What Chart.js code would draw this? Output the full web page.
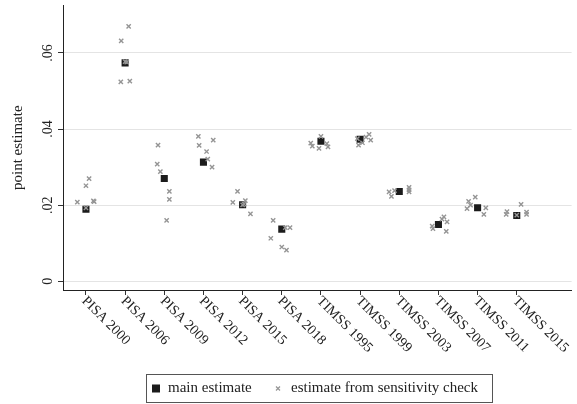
<!DOCTYPE html>
<html lang="en">
<head>
    <meta charset="UTF-8">
    <title>Point estimates by study</title>
    <script src="https://cdn.jsdelivr.net/npm/chart.js"></script>
    <style>
        body {
            margin: 0;
            background-color: #fff;
        }
        .chart-container {
            width: 577px;
            height: 404px;
        }
    </style>
</head>
<body>
    <div class="chart-container">
        <canvas id="estimate-chart"></canvas>
    </div>

    <script>
        // Survey waves on the x axis
        const categories = ["PISA 2000", "PISA 2006", "PISA 2009", "PISA 2012", "PISA 2015", "PISA 2018",
                            "TIMSS 1995", "TIMSS 1999", "TIMSS 2003", "TIMSS 2007", "TIMSS 2011", "TIMSS 2015"];

        // Main estimate per wave
        const mainEstimates = [0.0189, 0.0574, 0.0270, 0.0313, 0.0201, 0.0137,
                               0.0368, 0.0373, 0.0236, 0.0149, 0.0193, 0.0173];

        // Estimates from the sensitivity checks, one row per wave
        const sensitivityEstimates = [
            [0.0208, 0.0251, 0.0270, 0.0211, 0.0209, 0.0193],
            [0.0670, 0.0632, 0.0524, 0.0526, 0.0577, 0.0576],
            [0.0358, 0.0308, 0.0288, 0.0236, 0.0215, 0.0160],
            [0.0381, 0.0357, 0.0371, 0.0341, 0.0321, 0.0300],
            [0.0236, 0.0207, 0.0212, 0.0203, 0.0177, 0.0201],
            [0.0160, 0.0141, 0.0141, 0.0113, 0.0090, 0.0082],
            [0.0381, 0.0363, 0.0355, 0.0349, 0.0362, 0.0353],
            [0.0386, 0.0371, 0.0375, 0.0358, 0.0364, 0.0379],
            [0.0235, 0.0223, 0.0247, 0.0235, 0.0238, 0.0240],
            [0.0169, 0.0163, 0.0156, 0.0145, 0.0138, 0.0131],
            [0.0221, 0.0210, 0.0193, 0.0176, 0.0191, 0.0200],
            [0.0202, 0.0183, 0.0176, 0.0182, 0.0176, 0.0174]
        ];

        // Horizontal jitter of each sensitivity estimate (in category units)
        const sensitivityJitter = [
            [-0.22, 0.00, 0.08, 0.19, 0.21, 0.00],
            [0.09, -0.10, -0.11, 0.12, 0.00, 0.04],
            [-0.16, -0.18, -0.10, 0.13, 0.13, 0.06],
            [-0.13, -0.11, 0.25, 0.08, 0.11, 0.22],
            [-0.13, -0.25, 0.07, 0.04, 0.20, 0.00],
            [-0.22, 0.21, 0.09, -0.28, 0.00, 0.12],
            [0.00, -0.26, -0.22, -0.05, 0.15, 0.18],
            [0.23, 0.27, -0.07, -0.04, 0.06, 0.15],
            [-0.26, -0.20, 0.25, 0.25, -0.12, 0.25],
            [0.14, 0.09, 0.22, -0.16, -0.14, 0.20],
            [-0.06, -0.23, 0.21, 0.16, -0.27, -0.18],
            [0.11, -0.25, -0.27, 0.25, 0.25, 0.00]
        ];

        // Y axis ticks and labels
        const yTicks = [0, 0.02, 0.04, 0.06];
        const yTickLabels = ["0", ".02", ".04", ".06"];

        const legendLabels = ["main estimate", "estimate from sensitivity check"];

        const FONT = '"Liberation Serif", "Times New Roman", serif';
        const MAIN_COLOR = "#1b1b1b";
        const CROSS_COLOR = "#959595";

        const mainPoints = mainEstimates.map((v, i) => ({ x: i, y: v }));
        const crossPoints = [];
        sensitivityEstimates.forEach((row, i) => {
            row.forEach((v, j) => crossPoints.push({ x: i + sensitivityJitter[i][j], y: v }));
        });

        // Rotated tick labels and the boxed legend, drawn after the chart
        const labelsPlugin = {
            id: "labelsPlugin",
            afterDraw(chart) {
                const ctx = chart.ctx;
                const xs = chart.scales.x;
                const ys = chart.scales.y;
                ctx.save();
                ctx.fillStyle = "#222";

                // x labels, rotated 45 degrees clockwise
                ctx.font = "14px " + FONT;
                categories.forEach((c, i) => {
                    const px = xs.getPixelForValue(i);
                    ctx.save();
                    ctx.translate(px - 2, xs.top + 9);
                    ctx.rotate(Math.PI / 4);
                    ctx.textAlign = "left";
                    ctx.textBaseline = "middle";
                    ctx.fillText(c, 0, 0);
                    ctx.restore();
                });

                // y labels, vertical
                ctx.font = "14px " + FONT;
                yTicks.forEach((v, i) => {
                    const py = ys.getPixelForValue(v);
                    ctx.save();
                    ctx.translate(48, py);
                    ctx.rotate(-Math.PI / 2);
                    ctx.textAlign = "center";
                    ctx.textBaseline = "middle";
                    ctx.fillText(yTickLabels[i], 0, 0);
                    ctx.restore();
                });

                // legend box
                const boxL = 146, boxT = 374, boxW = 346, boxH = 28;
                ctx.strokeStyle = "#555";
                ctx.lineWidth = 1;
                ctx.strokeRect(boxL + 0.5, boxT + 0.5, boxW, boxH);
                const cy = boxT + boxH / 2 + 0.5;
                ctx.fillStyle = MAIN_COLOR;
                ctx.fillRect(152, cy - 4, 8, 8);
                ctx.strokeStyle = CROSS_COLOR;
                ctx.lineWidth = 1.2;
                ctx.beginPath();
                ctx.moveTo(276, cy - 2); ctx.lineTo(280, cy + 2);
                ctx.moveTo(280, cy - 2); ctx.lineTo(276, cy + 2);
                ctx.stroke();
                ctx.fillStyle = "#222";
                ctx.font = "15px " + FONT;
                ctx.textAlign = "left";
                ctx.textBaseline = "middle";
                ctx.fillText(legendLabels[0], 168, cy);
                ctx.fillText(legendLabels[1], 291, cy);
                ctx.restore();
            }
        };

        new Chart(document.getElementById("estimate-chart"), {
            type: "scatter",
            data: {
                datasets: [
                    {
                        label: legendLabels[0],
                        data: mainPoints,
                        pointStyle: "rect",
                        pointRadius: 5,
                        backgroundColor: MAIN_COLOR,
                        borderColor: MAIN_COLOR,
                        borderWidth: 0,
                        order: 1
                    },
                    {
                        label: legendLabels[1],
                        data: crossPoints,
                        pointStyle: "crossRot",
                        pointRadius: 3,
                        borderColor: CROSS_COLOR,
                        borderWidth: 1.4,
                        order: 0
                    }
                ]
            },
            options: {
                responsive: true,
                maintainAspectRatio: false,
                animation: false,
                layout: { padding: { top: 2, right: 4, left: 0, bottom: 0 } },
                plugins: {
                    legend: { display: false },
                    tooltip: { enabled: false }
                },
                scales: {
                    x: {
                        type: "linear",
                        min: -0.586,
                        max: 12.40,
                        afterBuildTicks: scale => {
                            scale.ticks = categories.map((c, i) => ({ value: i }));
                        },
                        afterFit: scale => { scale.height = 114; },
                        ticks: { display: false },
                        grid: {
                            drawOnChartArea: false,
                            drawTicks: true,
                            tickLength: 5,
                            tickColor: "#333"
                        },
                        border: { color: "#222", width: 1 }
                    },
                    y: {
                        min: -0.0023,
                        max: 0.0725,
                        afterBuildTicks: scale => {
                            scale.ticks = yTicks.map(v => ({ value: v }));
                        },
                        afterFit: scale => { scale.width = 63; },
                        ticks: { display: false },
                        title: {
                            display: true,
                            text: "point estimate",
                            font: { family: FONT, size: 15 },
                            color: "#222",
                            padding: { top: 9, bottom: 0 }
                        },
                        grid: {
                            color: "#e4e4e4",
                            lineWidth: 1,
                            drawTicks: true,
                            tickLength: 5,
                            tickColor: "#333"
                        },
                        border: { color: "#222", width: 1 }
                    }
                }
            },
            plugins: [labelsPlugin]
        });
    </script>
</body>
</html>
